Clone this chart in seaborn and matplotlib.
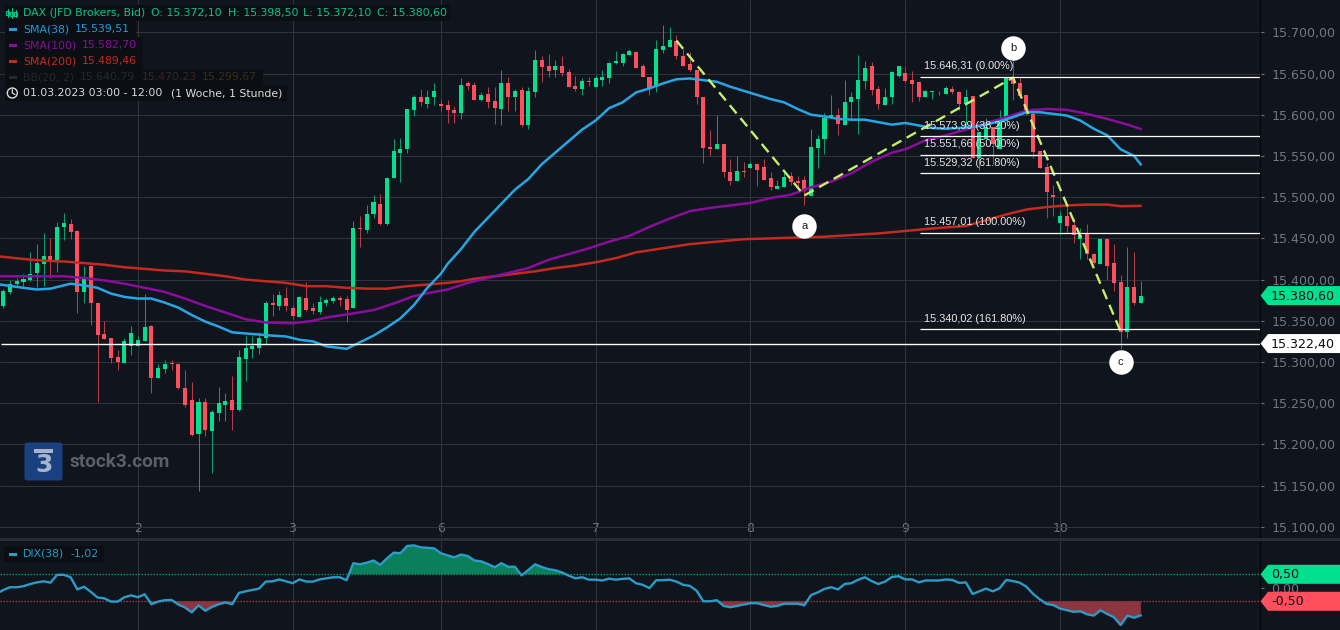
import matplotlib
matplotlib.use("Agg")
import matplotlib.pyplot as plt
from matplotlib.patches import Rectangle, Polygon, Circle, FancyBboxPatch
from matplotlib.ticker import FuncFormatter
import numpy as np
import seaborn as sns

# candles, one per hour
opens = [15368,15385,15395,15397,15400,15408,15419,15429,15424,15464,15467,15459,15385,15417,15372,15334,15329,15306,15299,15320,
         15320,15326,15344,15281,15292,15299,15297,15269,15254,15213,15251,15216,15238,15248,15254,15242,15304,15316,15317,15329,
         15372,15368,15378,15366,15355,15378,15365,15361,15372,15374,15378,15377,15365,15462,15460,15479,15492,15467,15523,15554,
         15559,15606,15622,15613,15621,15613,15612,15606,15602,15638,15636,15618,15625,15617,15607,15638,15622,15630,15587,15628,
         15667,15659,15654,15659,15652,15635,15631,15641,15634,15642,15645,15663,15663,15673,15676,15659,15646,15634,15679,15682,
         15690,15671,15662,15654,15622,15561,15558,15565,15530,15520,15532,15535,15540,15536,15523,15510,15512,15526,15520,15521,
         15501,15560,15570,15596,15600,15588,15615,15619,15641,15659,15631,15612,15621,15647,15651,15642,15640,15622,15627,15627,
         15625,15631,15628,15613,15623,15548,15570,15585,15558,15593,15645,15639,15624,15601,15556,15536,15503,15469,15477,15466,
         15449,15456,15431,15419,15449,15420,15397,15336,15391,15372.1]
highs = [15389,15399,15402,15407,15433,15443,15456,15450,15470,15481,15473,15460,15417,15417,15372,15350,15329,15314,15329,15344,
         15332,15383,15345,15297,15303,15303,15299,15290,15276,15256,15256,15242,15270,15263,15283,15314,15332,15331,15337,15374,
         15383,15386,15391,15369,15380,15397,15371,15380,15378,15380,15380,15380,15471,15477,15490,15503,15504,15524,15570,15572,
         15607,15624,15631,15630,15638,15618,15618,15611,15645,15641,15640,15627,15634,15634,15654,15646,15631,15634,15634,15679,
         15671,15674,15667,15671,15656,15647,15644,15646,15648,15654,15664,15677,15675,15680,15677,15662,15646,15691,15709,15706,
         15697,15680,15676,15654,15622,15582,15600,15565,15546,15550,15543,15543,15541,15546,15531,15521,15531,15530,15526,15526,
         15583,15576,15602,15624,15608,15642,15627,15673,15665,15664,15635,15633,15653,15659,15659,15653,15641,15630,15629,15629,
         15635,15635,15629,15631,15623,15579,15596,15585,15606,15645,15667,15646,15624,15608,15556,15541,15515,15483,15492,15475,
         15463,15467,15432,15451,15451,15443,15405,15440,15433,15398.5]
lows = [15366,15383,15392,15390,15398,15391,15392,15402,15409,15448,15449,15360,15371,15345,15252,15328,15299,15290,15299,15309,
        15320,15326,15262,15280,15287,15290,15267,15246,15210,15144,15210,15165,15228,15228,15218,15241,15277,15305,15310,15322,
        15356,15363,15362,15352,15355,15362,15358,15358,15368,15372,15368,15349,15365,15440,15457,15475,15466,15466,15523,15518,
        15553,15599,15611,15608,15612,15604,15590,15590,15595,15630,15618,15617,15608,15589,15588,15605,15604,15585,15583,15622,
        15640,15646,15646,15647,15634,15629,15624,15635,15634,15635,15638,15662,15659,15673,15657,15646,15624,15627,15675,15682,
        15668,15659,15653,15613,15542,15550,15558,15524,15515,15520,15525,15535,15514,15521,15509,15510,15512,15515,15510,15491,
        15501,15535,15552,15596,15575,15588,15594,15577,15631,15624,15607,15612,15613,15646,15640,15616,15617,15621,15619,15624,
        15625,15625,15606,15582,15548,15533,15570,15540,15558,15592,15618,15623,15600,15547,15535,15475,15477,15454,15457,15444,
        15425,15425,15419,15419,15399,15386,15316,15329,15369,15372.1]
closes = [15386,15395,15398,15401,15407,15420,15429,15423,15464,15469,15458,15385,15402,15371,15333,15328,15305,15300,15325,15335,
          15327,15343,15281,15293,15298,15297,15269,15248,15212,15252,15217,15239,15250,15253,15242,15306,15317,15320,15329,15371,
          15369,15381,15368,15356,15379,15363,15362,15373,15375,15378,15375,15363,15462,15461,15480,15494,15468,15523,15556,15559,
          15607,15621,15615,15621,15629,15610,15606,15602,15636,15635,15618,15624,15616,15608,15639,15622,15629,15587,15629,15667,
          15658,15653,15659,15651,15634,15631,15641,15640,15645,15646,15663,15665,15674,15677,15657,15646,15633,15680,15683,15691,
          15671,15659,15654,15621,15560,15559,15565,15530,15520,15532,15531,15540,15533,15521,15512,15514,15525,15518,15517,15507,
          15561,15571,15596,15600,15589,15616,15621,15642,15657,15630,15613,15621,15652,15659,15641,15637,15622,15629,15629,15628,
          15633,15627,15613,15622,15548,15579,15585,15564,15592,15645,15637,15623,15605,15555,15535,15506,15500,15477,15465,15454,
          15454,15431,15420,15449,15417,15396,15337,15391,15371,15380.6]

# moving averages, read at every few candles (they run on past the left edge)
sma38_idx = [-0.5,3,5,7,9,10,12,14,16,18,20,22,24,26,28,30,32,34,37,40,42,44,46,48,50,51,53,55,57,59,61,63,65,66,68,70,72,74,76,78,80,82,84,86,88,
             90,92,94,96,98,100,102,104,106,108,110,112,114,116,118,120,122,124,126,128,130,132,134,136,138,140,142,144,146,148,150,152,154,156,158,160,162,164,166,168,169]
sma38 = [15394,15390,15388,15389,15393,15395,15393,15390,15383,15379,15377,15377,15372,15366,15357,15349,15343,15336,15334,15332,15331,15327,15325,15319,15317,15316,15324,15332,15342,15353,15369,15390,15407,15419,15437,15458,15475,15492,15509,15522,15540,15554,15568,15582,15593,
         15608,15615,15627,15632,15638,15643,15644,15642,15640,15634,15629,15624,15619,15615,15607,15600,15598,15595,15594,15594,15591,15588,15590,15587,15584,15583,15584,15585,15588,15592,15597,15603,15603,15601,15599,15593,15583,15575,15558,15550,15539.51]
sma100_idx = [-0.5,4,9,12,15,18,21,24,27,30,33,36,39,43,46,48,52,55,58,61,64,66,69,72,75,78,81,84,87,90,93,96,99,102,105,108,111,114,117,120,123,126,129,132,134,137,140,143,146,149,152,155,158,161,164,167,169]
sma100 = [15404,15404,15404,15402,15399,15395,15390,15385,15377,15368,15360,15352,15348,15347,15350,15354,15359,15363,15371,15380,15385,15388,15396,15402,15408,15414,15424,15431,15438,15446,15453,15464,15474,15483,15487,15490,15493,15499,15503,15512,15519,15529,15543,15554,15558,15569,15575,15582,15590,15597,15605,15607,15606,15601,15595,15588,15582.70]
sma200_idx = [-0.5,3,6,9,12,15,18,21,24,27,30,33,36,39,42,45,48,51,54,57,60,63,66,68,70,73,76,79,82,85,88,91,94,98,102,106,110,114,118,122,126,130,134,138,143,146,149,152,155,158,161,164,166,169]
sma200 = [15428,15425,15423,15422,15420,15418,15415,15413,15411,15410,15407,15404,15400,15398,15396,15392,15392,15390,15389,15389,15392,15394,15396,15398,15401,15404,15407,15410,15414,15417,15421,15426,15433,15438,15443,15446,15449,15450,15451,15452,15454,15456,15459,15462,15465,15472,15479,15485,15488,15490,15491,15491,15489,15489.46]

dix = [-0.08,0.02,0.02,0.06,0.14,0.20,0.24,0.19,0.48,0.48,0.39,-0.06,0.04,-0.15,-0.36,-0.39,-0.51,-0.51,-0.35,-0.28,
       -0.35,-0.24,-0.61,-0.51,-0.46,-0.45,-0.62,-0.73,-0.91,-0.65,-0.85,-0.71,-0.61,-0.54,-0.61,-0.19,-0.13,-0.08,-0.03,0.23,
       0.24,0.31,0.24,0.17,0.31,0.23,0.23,0.31,0.35,0.39,0.39,0.28,0.91,0.87,0.93,1.01,0.85,1.09,1.30,1.28,
       1.55,1.57,1.50,1.48,1.46,1.28,1.20,1.13,1.23,1.18,1.01,0.98,0.88,0.76,0.91,0.78,0.78,0.46,0.66,0.87,
       0.77,0.69,0.65,0.57,0.45,0.35,0.39,0.30,0.30,0.27,0.34,0.30,0.33,0.35,0.17,0.11,-0.01,0.28,0.28,0.30,
       0.23,0.11,0.07,-0.11,-0.50,-0.50,-0.46,-0.67,-0.72,-0.67,-0.62,-0.57,-0.57,-0.64,-0.70,-0.67,-0.59,-0.59,-0.59,-0.65,
       -0.27,-0.17,-0.04,0.02,-0.06,0.14,0.17,0.30,0.39,0.25,0.14,0.23,0.40,0.43,0.31,0.31,0.20,0.27,0.27,0.27,
       0.31,0.29,0.18,0.20,-0.23,-0.13,-0.03,-0.13,-0.02,0.29,0.25,0.19,0.04,-0.23,-0.43,-0.60,-0.64,-0.77,-0.83,-0.89,
       -0.87,-0.98,-1.03,-0.83,-0.97,-1.09,-1.38,-1.03,-1.11,-1.02]
dix_left = -0.15

# day starts on the x axis
day_idx = [20,43,65,88,111,134,157]
day_labels = ["2","3","6","7","8","9","10"]

# fibonacci levels and the abc swing
fib_values = [15646.31,15573.99,15551.66,15529.32,15457.01,15340.02]
fib_labels = ["15.646,31 (0.00%)","15.573,99 (38.20%)","15.551,66 (50.00%)","15.529,32 (61.80%)","15.457,01 (100.00%)","15.340,02 (161.80%)"]
swing_idx = [100,119,150,166]
swing_val = [15690,15502,15645,15337]
point_idx = [119,150,166]
point_val = [15465,15681,15300]
point_names = ["a","b","c"]

last_close = 15380.60
last_low = 15322.40

BG = "#10141c"
GRID = "#31333b"
GREEN = "#00e08f"
RED = "#ff4f5e"
AXIS_TXT = "#73767e"


def de(v):
    return f"{v:,.2f}".replace(",", "X").replace(".", ",").replace("X", ".")


sns.set_theme(style="darkgrid", rc={
    "figure.facecolor": BG, "axes.facecolor": BG, "grid.color": GRID, "grid.linewidth": 0.75,
    "axes.edgecolor": "#06080c", "font.family": "DejaVu Sans",
})

fig = plt.figure(figsize=(13.4, 6.3), dpi=100)
ax = fig.add_axes([0, 1 - 537 / 630, 1260 / 1340, 537 / 630])
ax2 = fig.add_axes([0, 0, 1260 / 1340, 89 / 630])
x_lim = (-0.49, 186.7)

# candles
x = np.arange(len(opens))
o, h, l, c = map(np.array, (opens, highs, lows, closes))
up = c >= o
ax.vlines(x[up], l[up], h[up], color="#0b9c6c", linewidth=0.75, zorder=2)
ax.vlines(x[~up], l[~up], h[~up], color="#b23c48", linewidth=0.75, zorder=2)
ax.bar(x[up], (c - o)[up], bottom=o[up], width=0.6, color=GREEN, linewidth=0, zorder=2.2)
ax.bar(x[~up], (o - c)[~up], bottom=c[~up], width=0.6, color=RED, linewidth=0, zorder=2.2)

sns.lineplot(x=sma200_idx, y=sma200, ax=ax, color="#c42a20", linewidth=1.8, errorbar=None, zorder=3)
sns.lineplot(x=sma100_idx, y=sma100, ax=ax, color="#8a0d9e", linewidth=1.8, errorbar=None, zorder=3)
sns.lineplot(x=sma38_idx, y=sma38, ax=ax, color="#27a6e5", linewidth=1.8, errorbar=None, zorder=3)

ax.plot(swing_idx, swing_val, color="#c4f06a", linewidth=1.7, dashes=(4.5, 2.6), zorder=4)

for val, lab in zip(fib_values, fib_labels):
    ax.hlines(val, 136.2, x_lim[1], color="white", linewidth=0.9, zorder=5)
    ax.annotate(lab, (136.2, val), xytext=(3, 7.4), textcoords="offset points", va="center",
                fontsize=7.8, family="Liberation Sans", color="#e6e6e6", zorder=6)
ax.hlines(last_low, -0.3, x_lim[1], color="white", linewidth=1.0, zorder=5)

ax.scatter(point_idx, point_val, s=310, color="white", linewidth=0, zorder=7)
for i, v, n in zip(point_idx, point_val, point_names):
    ax.text(i, v, n, ha="center", va="center", fontsize=8, family="Liberation Sans", color="#15181e", zorder=8)

ax.set_xlim(*x_lim)
ax.set_ylim(15087.7, 15739.2)
ax.set_yticks(np.arange(15100, 15701, 50))
ax.yaxis.set_major_formatter(FuncFormatter(lambda v, _: de(v)))
ax.yaxis.tick_right()
ax.set_xticks(day_idx)
ax.set_xticklabels(day_labels)
ax.tick_params(axis="y", length=3, width=0.8, color="#6a6d75", labelcolor=AXIS_TXT, labelsize=9.1, pad=5, right=True)
ax.tick_params(axis="x", length=0, pad=-10.7, labelcolor=AXIS_TXT, labelsize=8.9)
ax.set_axisbelow(True)

# DIX pane
sns.lineplot(x=np.r_[-0.5, x], y=np.r_[dix_left, dix], ax=ax2, color="#2a9cc8", linewidth=1.7, errorbar=None, zorder=3)
d = np.array(dix)
ax2.fill_between(x, 0.5, d, where=d > 0.5, interpolate=True, color="#0a7f5a", linewidth=0, zorder=2)
ax2.fill_between(x, -0.5, d, where=d < -0.5, interpolate=True, color="#8a3540", linewidth=0, zorder=2)
ax2.axhline(0.5, color="#0c9a68", linewidth=0.9, linestyle=(0, (1.2, 1.2)), zorder=1)
ax2.axhline(-0.5, color="#a33a46", linewidth=0.9, linestyle=(0, (1.2, 1.2)), zorder=1)
ax2.set_xlim(*x_lim)
ax2.set_ylim(-1.563, 1.733)
ax2.set_xticks(day_idx)
ax2.set_xticklabels([])
ax2.tick_params(axis="x", length=0)
ax2.set_yticks([0])
ax2.yaxis.set_major_formatter(FuncFormatter(lambda v, _: de(abs(v))))
ax2.yaxis.tick_right()
ax2.tick_params(axis="y", length=3, width=0.8, color="#6a6d75", labelcolor=AXIS_TXT, labelsize=9.1, pad=5, right=True)
ax2.grid(False, axis="y")
ax2.grid(True, axis="x", color=GRID)
ax2.set_axisbelow(True)

for a in (ax, ax2):
    for side in ("top", "left", "bottom"):
        a.spines[side].set_visible(False)
    a.spines["right"].set_color("#06080c")
    a.spines["right"].set_linewidth(1.0)

# overlay in pixel coordinates for header, tags and logo
ov = fig.add_axes([0, 0, 1, 1], zorder=10)
ov.set_xlim(0, 1340)
ov.set_ylim(630, 0)
ov.axis("off")
ov.patch.set_alpha(0)
ov.add_patch(Rectangle((0, 537.5), 1340, 3.5, color="#2a2d35", linewidth=0, zorder=1))


def to_y(a, v):
    px = a.transData.transform((0, v))[1]
    return 630 - px


def tag(a, v, text, color):
    y = to_y(a, v)
    ov.add_patch(Polygon([(1260.5, y), (1268, y - 9.5), (1340, y - 9.5), (1340, y + 9.5), (1268, y + 9.5)],
                         closed=True, color=color, linewidth=0, zorder=3))
    ov.text(1271, y + 0.5, text, fontsize=9.1, color="#0a0d12", va="center", zorder=4)


tag(ax, last_close, de(last_close), GREEN)
tag(ax, last_low, de(last_low), "white")
tag(ax2, 0.5, "0,50", GREEN)
tag(ax2, -0.5, "-0,50", RED)

# header rows
BOX = "#0b0e13"
rows = [(13, 450), (29, 136), (45, 143), (61, 143), (77, 263), (93, 287)]
for y, right in rows:
    ov.add_patch(Rectangle((5, y - 8), right - 5, 16, color=BOX, linewidth=0, zorder=1))
ov.add_patch(Rectangle((4, 546), 100, 16, color=BOX, linewidth=0, zorder=1))


def head(xp, y, s, color):
    ov.text(xp, y, s, fontsize=7.8, color=color, va="center", zorder=3)


HEAD_GREEN = "#04c98a"
head(23, 13, "DAX (JFD Brokers, Bid)", HEAD_GREEN)
for xp, s in zip([151, 227.5, 303, 377], ["O: 15.372,10", "H: 15.398,50", "L: 15.372,10", "C: 15.380,60"]):
    head(xp, 13, s, HEAD_GREEN)
for y, name, val, xv, col in [(29, "SMA(38)", "15.539,51", 75, "#1f9ce0"),
                              (45, "SMA(100)", "15.582,70", 82, "#8a0d9e"),
                              (61, "SMA(200)", "15.489,46", 82, "#c42a20")]:
    head(23, y, name, col)
    head(xv, y, val, col)
    ov.add_patch(Rectangle((9, y - 1.5), 8, 3, color=col, linewidth=0, zorder=3))
ov.add_patch(Rectangle((9, 75.5), 8, 3, color="#24272f", linewidth=0, zorder=3))
head(23, 77, "BB(20, 2)", "#24272f")
head(80, 77, "15.640,79", "#24272f")
head(141.5, 77, "15.470,23", "#3a2329")
head(202, 77, "15.299,67", "#3a2c1d")
head(23, 93, "01.03.2023 03:00 - 12:00", "#dcdcdc")
head(171, 93, "(1 Woche, 1 Stunde)", "#dcdcdc")
ov.add_patch(Circle((12.3, 93), 5, fill=False, edgecolor="#dcdcdc", linewidth=1.0, zorder=3))
ov.plot([12.3, 12.3, 15], [89.5, 93, 94.5], color="#dcdcdc", linewidth=0.9, zorder=3)
for xp, top, bot, b1, b2 in [(7.5, 9, 17, 11, 15), (11.5, 8, 18, 12, 16), (15.5, 10, 17, 12, 16)]:
    ov.plot([xp, xp], [top, bot], color=HEAD_GREEN, linewidth=0.8, zorder=3)
    ov.add_patch(Rectangle((xp - 1.3, b1), 2.6, b2 - b1, fill=False, edgecolor=HEAD_GREEN, linewidth=0.7, zorder=3))

ov.text(23, 554, "DIX(38)", fontsize=7.8, color="#2a9cc8", va="center", zorder=3)
ov.text(70, 554, "-1,02", fontsize=7.8, color="#2a9cc8", va="center", zorder=3)
ov.add_patch(Rectangle((9, 552.5), 8, 3, color="#2a9cc8", linewidth=0, zorder=3))

# logo
ov.add_patch(FancyBboxPatch((25, 443), 37, 37, boxstyle="round,pad=0.5,rounding_size=2.5", color="#1a4488", linewidth=0, zorder=2, alpha=0.95))
ov.add_patch(Rectangle((34, 449), 19, 3.5, color="#a6b3c9", linewidth=0, zorder=3))
ov.text(44, 465.5, "3", fontsize=18, fontweight="bold", color="#a6b3c9", ha="center", va="center", zorder=3)
ov.text(70, 462, "stock3.com", fontsize=13.7, family="Roboto", fontweight="bold", color="#5c5f66", va="center", zorder=3)

fig.savefig("out.png", dpi=100, facecolor=BG)
